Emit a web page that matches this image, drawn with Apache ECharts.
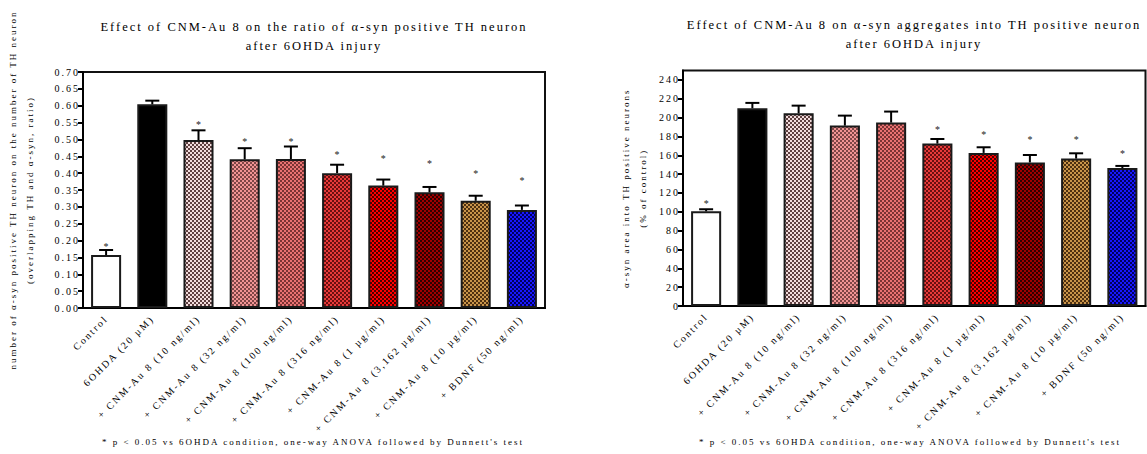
<!DOCTYPE html>
<html>
<head>
<meta charset="utf-8">
<script src="https://cdn.jsdelivr.net/npm/echarts@6/dist/echarts.min.js"></script>
<style>
  html, body { margin: 0; padding: 0; background: #fff; }
  #chart { width: 1147px; height: 454px; }
  #chart text { letter-spacing: 2px; }
</style>
</head>
<body>
<div id="chart"></div>
<script>
// ---------- data ----------
const categories = [
  'Control', '6OHDA (20 µM)', '+ CNM-Au 8 (10 ng/ml)', '+ CNM-Au 8 (32 ng/ml)',
  '+ CNM-Au 8 (100 ng/ml)', '+ CNM-Au 8 (316 ng/ml)', '+ CNM-Au 8 (1 µg/ml)',
  '+ CNM-Au 8 (3,162 µg/ml)', '+ CNM-Au 8 (10 µg/ml)', '+ BDNF (50 ng/ml)'
];
const ratioMean = [0.157, 0.604, 0.498, 0.441, 0.442, 0.400, 0.363, 0.343, 0.318, 0.291];
const ratioSem  = [0.015, 0.011, 0.029, 0.033, 0.037, 0.025, 0.018, 0.016, 0.015, 0.013];
const ratioStar = [0.187, null, 0.550, 0.501, 0.501, 0.460, 0.448, 0.436, 0.406, 0.383];

const areaMean = [100.5, 209.9, 204.6, 191.5, 194.7, 172.4, 162.5, 152.4, 156.5, 146.5];
const areaSem  = [2.2, 5.7, 8.1, 10.6, 11.7, 4.9, 6.0, 7.9, 5.6, 2.2];
const areaStar = [111, null, null, null, null, 189.7, 183.7, 178.6, 178.6, 164.5];

const ratioTicks = [0, 0.05, 0.10, 0.15, 0.20, 0.25, 0.30, 0.35, 0.40, 0.45, 0.50, 0.55, 0.60, 0.65, 0.70];
const areaTicks = [0, 20, 40, 60, 80, 100, 120, 140, 160, 180, 200, 220, 240];

const titleLeft = 'Effect of CNM-Au 8 on the ratio of α-syn positive TH neuron\nafter 6OHDA injury';
const titleRight = 'Effect of CNM-Au 8 on α-syn aggregates into TH positive neuron\nafter 6OHDA injury';
const yNameLeft = 'number of α-syn positive TH neuron on the number of TH neuron\n(overlapping TH and α-syn, ratio)';
const yNameRight = 'α-syn area into TH positive neurons\n(% of control)';
const footnote = "* p < 0.05 vs 6OHDA condition, one-way ANOVA followed by Dunnett's test";

// ---------- styles ----------
const barColors = [
  ['#ffffff', '#ffffff'],
  ['#000000', '#000000'],
  ['#f2dcdc', '#5e4040'],
  ['#f29494', '#7e4646'],
  ['#ea7272', '#7a3434'],
  ['#e83a3a', '#6a1010'],
  ['#ff0000', '#4a0000'],
  ['#a00000', '#2e0000'],
  ['#c8944a', '#4e3010'],
  ['#1818ff', '#00005e']
];
function checker(c1, c2) {
  if (c1 === c2) return c1;
  const cv = document.createElement('canvas');
  cv.width = 4; cv.height = 4;
  const ctx = cv.getContext('2d');
  ctx.fillStyle = c1; ctx.fillRect(0, 0, 4, 4);
  ctx.fillStyle = c2; ctx.fillRect(0, 0, 2, 2); ctx.fillRect(2, 2, 2, 2);
  return { image: cv, repeat: 'repeat', imageWidth: 4, imageHeight: 4 };
}
const fills = barColors.map(c => checker(c[0], c[1]));

const FONT = 'Liberation Serif';
const TXT = '#000';

function barSeries(values, idx) {
  return {
    type: 'bar', xAxisIndex: idx, yAxisIndex: idx,
    barWidth: '65%',
    data: values.map((v, i) => ({
      value: v,
      itemStyle: { color: fills[i], borderColor: '#1a1a1a', borderWidth: 2 }
    })),
    z: 2
  };
}
function errSeries(means, sems, idx) {
  return {
    type: 'custom', xAxisIndex: idx, yAxisIndex: idx, z: 3,
    data: means.map((m, i) => [i, m, m + sems[i]]),
    renderItem: function (params, api) {
      const p0 = api.coord([api.value(0), api.value(1)]);
      const p1 = api.coord([api.value(0), api.value(2)]);
      const st = { stroke: '#000', lineWidth: 2 };
      return {
        type: 'group', children: [
          { type: 'line', shape: { x1: p0[0], y1: p0[1], x2: p1[0], y2: p1[1] }, style: st },
          { type: 'line', shape: { x1: p1[0] - 7, y1: p1[1], x2: p1[0] + 7, y2: p1[1] }, style: st }
        ]
      };
    }
  };
}
function starSeries(stars, idx) {
  return {
    type: 'custom', xAxisIndex: idx, yAxisIndex: idx, z: 4,
    data: stars.map((s, i) => [i, s == null ? NaN : s]),
    renderItem: function (params, api) {
      const v = api.value(1);
      if (isNaN(v)) return null;
      const p = api.coord([api.value(0), v]);
      return {
        type: 'text', x: p[0] + 1, y: p[1] + 2,
        style: { text: '*', fill: '#222', font: '10px "' + FONT + '"', align: 'center', verticalAlign: 'middle' }
      };
    }
  };
}

function xAxis(idx) {
  return {
    type: 'category', gridIndex: idx, data: categories,
    axisLine: { lineStyle: { color: '#000', width: 2 } },
    axisTick: { alignWithLabel: true, length: 5, lineStyle: { color: '#000', width: 2 } },
    axisLabel: { rotate: 45, interval: 0, margin: 9, fontFamily: FONT, fontSize: 10, color: TXT },
    splitLine: { show: false }
  };
}
function yAxis(idx, max, interval, ticks, name, gap, fmt) {
  return {
    type: 'value', gridIndex: idx, min: 0, max: max, interval: interval,
    name: name, nameLocation: 'middle', nameGap: gap, nameRotate: 90,
    nameTextStyle: { fontFamily: FONT, fontSize: 9, color: TXT, lineHeight: 17 },
    axisLine: { show: true, lineStyle: { color: '#000', width: 2 } },
    axisTick: { show: true, length: 5, customValues: ticks, lineStyle: { color: '#000', width: 2 } },
    axisLabel: { customValues: ticks, margin: 3, fontFamily: FONT, fontSize: 10, color: TXT, formatter: fmt },
    splitLine: { show: false }
  };
}

const chart = echarts.init(document.getElementById('chart'), null, { renderer: 'svg' });
chart.setOption({
  animation: false,
  backgroundColor: '#fff',
  title: [
    { text: titleLeft, left: 314, top: 17, textAlign: 'center', padding: 0,
      textStyle: { fontFamily: FONT, fontWeight: 'normal', fontSize: 12.5, lineHeight: 19, color: TXT } },
    { text: titleRight, left: 914, top: 15, textAlign: 'center', padding: 0,
      textStyle: { fontFamily: FONT, fontWeight: 'normal', fontSize: 12.5, lineHeight: 19, color: TXT } },
    { text: footnote, left: 313, top: 437, textAlign: 'center', padding: 0,
      textStyle: { fontFamily: FONT, fontWeight: 'normal', fontSize: 9, color: TXT } },
    { text: footnote, left: 910, top: 437, textAlign: 'center', padding: 0,
      textStyle: { fontFamily: FONT, fontWeight: 'normal', fontSize: 9, color: TXT } }
  ],
  grid: [
    { left: 83, right: 602, top: 72, bottom: 146, show: true, borderColor: '#111', borderWidth: 2 },
    { left: 683, right: 1.5, top: 70.5, bottom: 148, show: true, borderColor: '#111', borderWidth: 2 }
  ],
  xAxis: [xAxis(0), xAxis(1)],
  yAxis: [
    yAxis(0, 0.70, 0.05, ratioTicks, yNameLeft, 45, v => v.toFixed(2)),
    yAxis(1, 250, 10, areaTicks, yNameRight, 32, v => String(v))
  ],
  series: [
    barSeries(ratioMean, 0), errSeries(ratioMean, ratioSem, 0), starSeries(ratioStar, 0),
    barSeries(areaMean, 1), errSeries(areaMean, areaSem, 1), starSeries(areaStar, 1)
  ]
});
</script>
</body>
</html>
